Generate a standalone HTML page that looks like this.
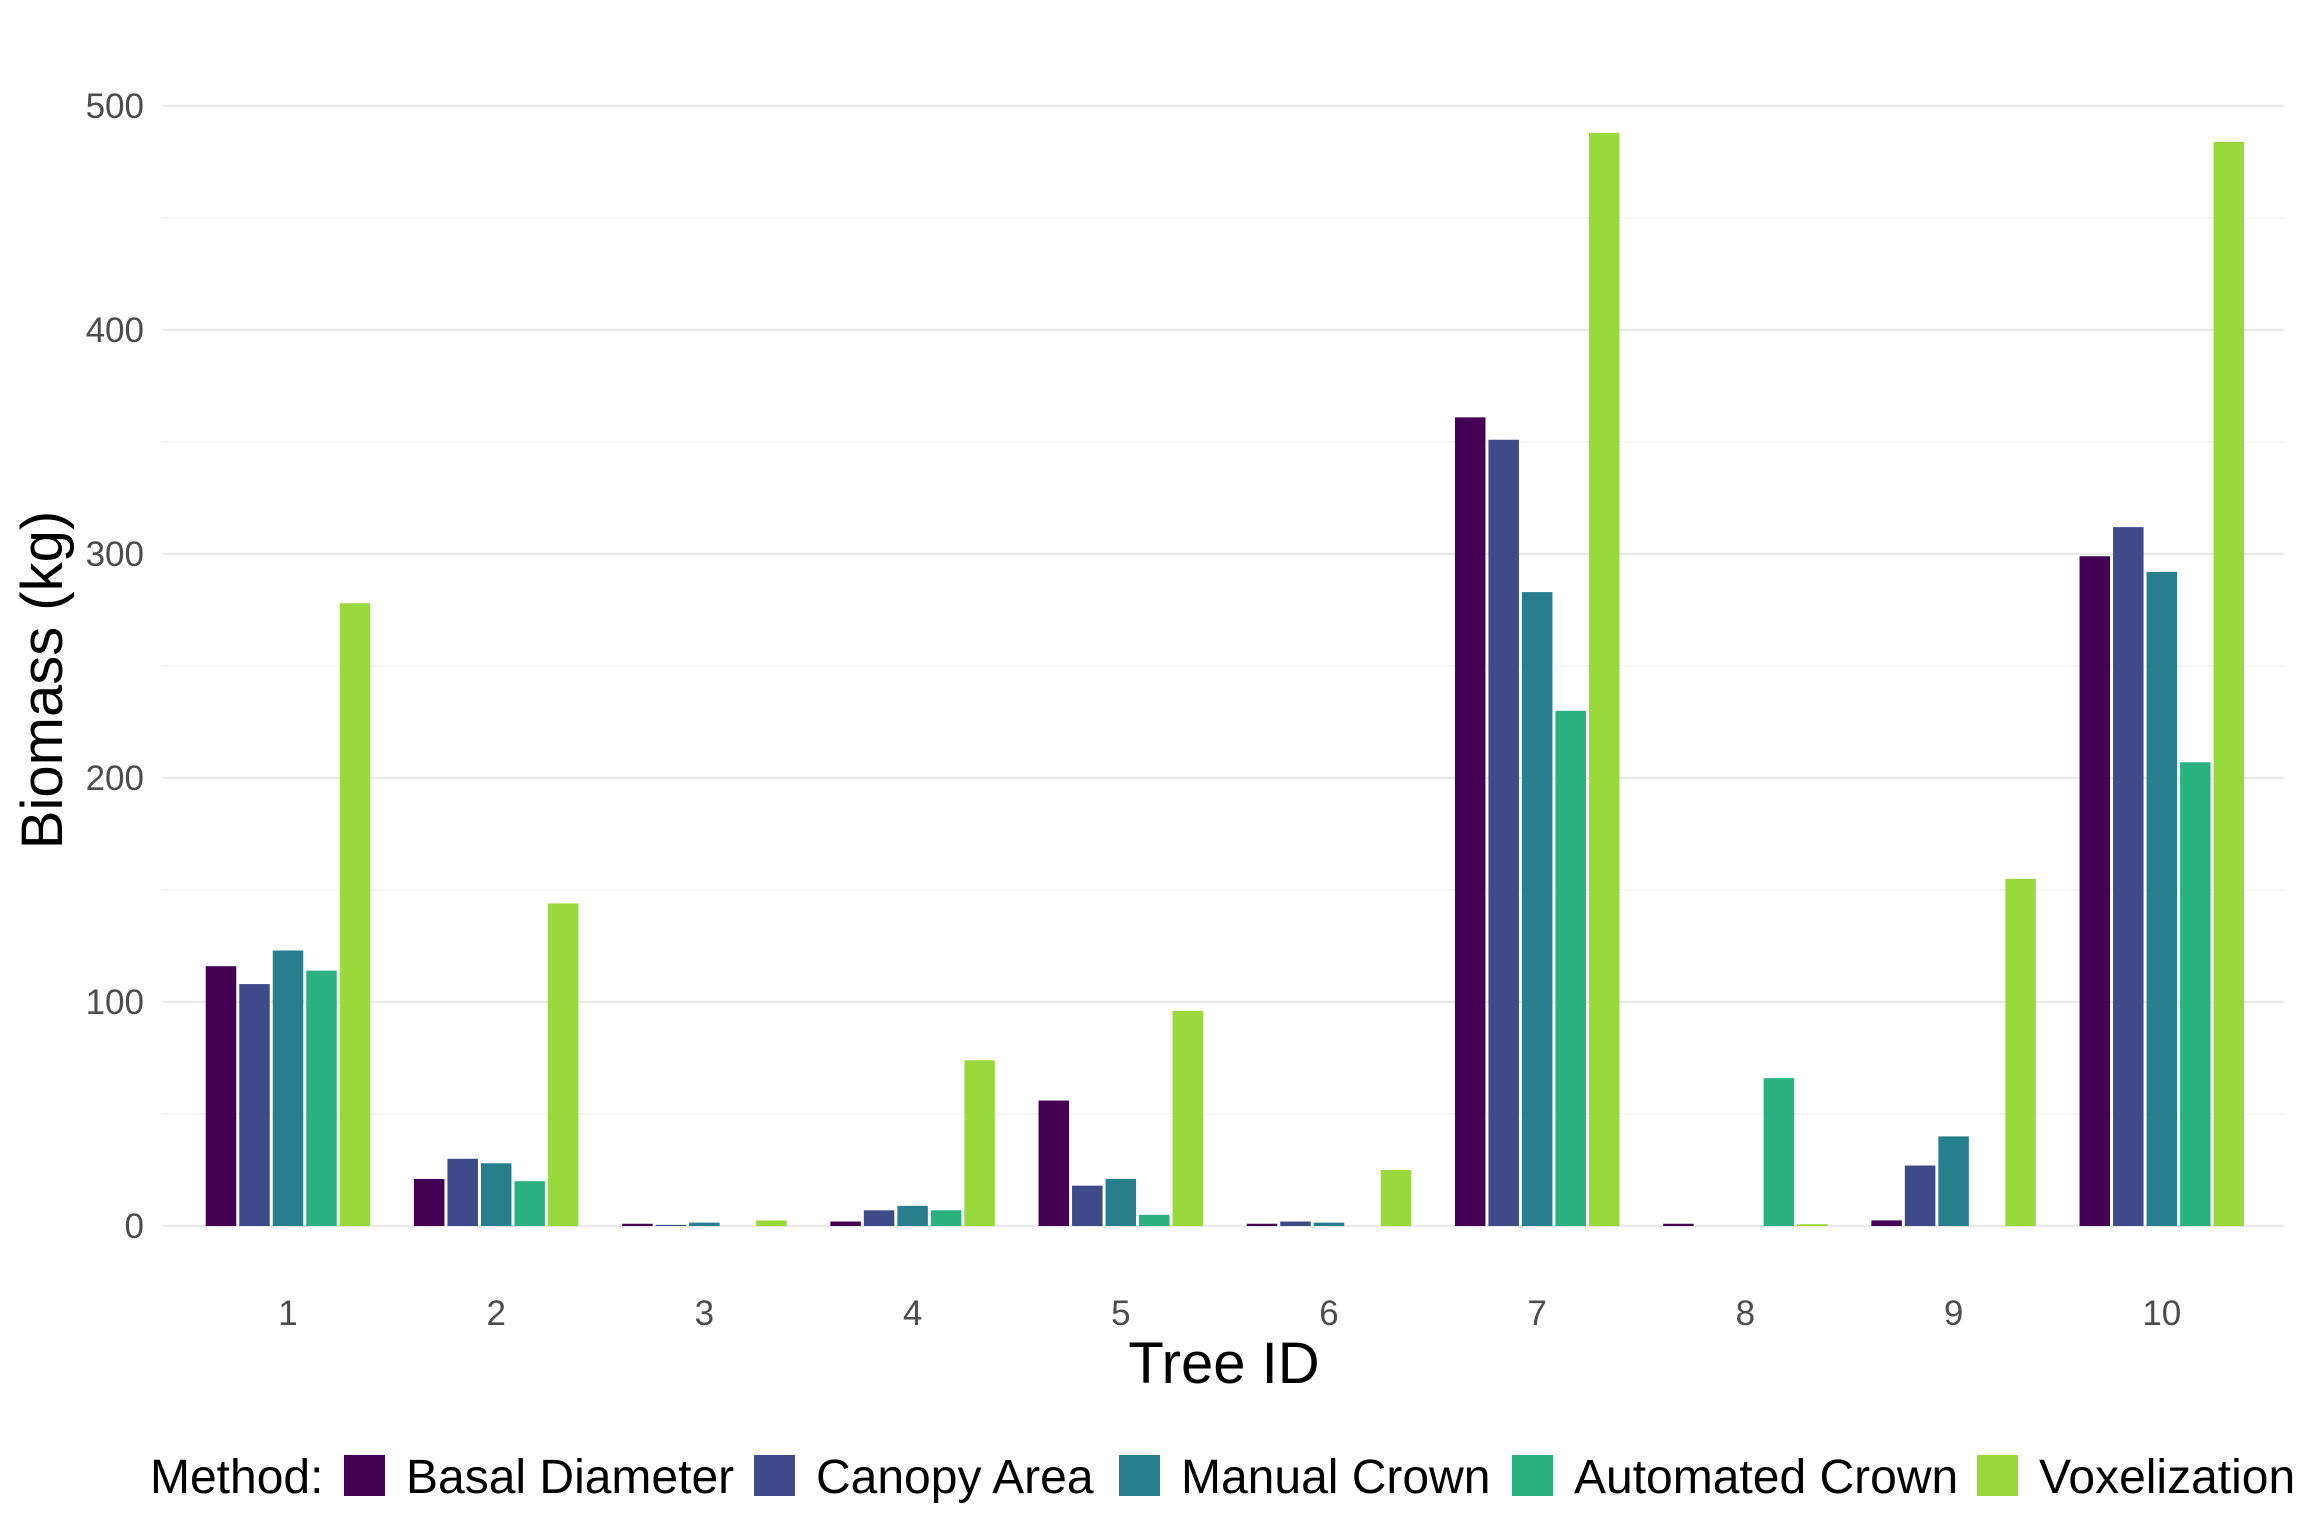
<!DOCTYPE html>
<html><head><meta charset="utf-8"><style>
body{margin:0;background:#fff;}
svg{display:block;font-family:"Liberation Sans",sans-serif;}
</style></head><body>
<svg id="chart" width="2304" height="1536" viewBox="0 0 2304 1536">
<g id="grid"></g>
<g id="yticks"></g>
<g id="bars"></g>
<g id="xticks"></g>
<text x="1224" y="1383" font-size="58" text-anchor="middle" fill="#000">Tree ID</text>
<text transform="translate(62,680) rotate(-90)" font-size="58" text-anchor="middle" fill="#000">Biomass (kg)</text>
<g id="legend">
<text x="150" y="1493" font-size="48" fill="#000">Method:</text>
</g>
</svg>
<script>
const categories=["1","2","3","4","5","6","7","8","9","10"];
const methods=["Basal Diameter","Canopy Area","Manual Crown","Automated Crown","Voxelization"];
const colors=["#440154","#3f4a8a","#277f8e","#2bb07f","#9ad93c"];
const basal=[116,21,1,2,56,1,361,1,2.5,299];
const canopy=[108,30,0.5,7,18,2,351,0,27,312];
const manual=[123,28,1.5,9,21,1.5,283,0,40,292];
const automated=[114,20,0,7,5,0,230,66,0,207];
const voxel=[278,144,2.5,74,96,25,488,0.8,155,484];
const yTicks=[0,100,200,300,400,500];
const series=[basal,canopy,manual,automated,voxel];
const NS="http://www.w3.org/2000/svg";
const plotL=162,plotR=2284,y0=1226,y500=106;
const yScale=v=>y0-(v/500)*(y0-y500);
const c1=288,step=208.2;
const xScale=i=>c1+i*step;
const slot=33.5,bw=30.5;
function mk(tag,attrs,parent){const e=document.createElementNS(NS,tag);for(const k in attrs)e.setAttribute(k,attrs[k]);parent.appendChild(e);return e;}
const grid=document.getElementById('grid');
for(let v=50;v<=500;v+=100){
  const l=mk('line',{x1:plotL,x2:plotR,y1:yScale(v),y2:yScale(v),stroke:'#f3f3f3','stroke-width':1.5},grid);
  
  
}
const yt=document.getElementById('yticks');
yTicks.forEach(v=>{
  const l=mk('line',{x1:plotL,x2:plotR,y1:yScale(v),y2:yScale(v),stroke:'#ebebeb','stroke-width':2.5},grid);
  
  
  const t=mk('text',{x:144,y:yScale(v)+12,'font-size':35,'text-anchor':'end',fill:'#4d4d4d'},yt);
  t.textContent=v;
  
  
});
const bars=document.getElementById('bars');
categories.forEach((c,i)=>{
  series.forEach((s,j)=>{
    const cx=xScale(i)+(j-2)*slot;
    const y=yScale(s[i]);
    const r=mk('rect',{x:cx-bw/2,y:y,width:bw,height:Math.max(0,y0-y),fill:colors[j]},bars);
    
    
  });
  const t=mk('text',{x:xScale(i),y:1325,'font-size':35,'text-anchor':'middle',fill:'#4d4d4d'},document.getElementById('xticks'));
  t.textContent=c;
  
  
});
const lg=document.getElementById('legend');
const keyX=[344,754,1119,1512,1977];
methods.forEach((m,j)=>{
  const r=mk('rect',{x:keyX[j],y:1455,width:41,height:41,fill:colors[j]},lg);
  
  
  const t=mk('text',{x:keyX[j]+62,y:1493,'font-size':48,fill:'#000'},lg);
  t.textContent=m;
  
  
});
</script>
</body></html>
